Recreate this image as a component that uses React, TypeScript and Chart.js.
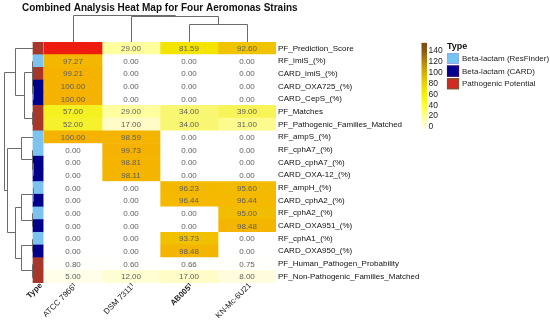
import { useEffect, useRef } from 'react';
import { Chart, registerables } from 'chart.js';

Chart.register(...registerables);

// ---------- data ----------
const strains = ['ATCC 7966ᵀ', 'DSM 7311ᵀ', 'AB005ᵀ', 'KN-Mc-6U21'];
const features = [
  'PF_Prediction_Score',
  'RF_imiS_(%)',
  'CARD_imiS_(%)',
  'CARD_OXA725_(%)',
  'CARD_CepS_(%)',
  'PF_Matches',
  'PF_Pathogenic_Families_Matched',
  'RF_ampS_(%)',
  'RF_cphA7_(%)',
  'CARD_cphA7_(%)',
  'CARD_OXA-12_(%)',
  'RF_ampH_(%)',
  'CARD_cphA2_(%)',
  'RF_cphA2_(%)',
  'CARD_OXA951_(%)',
  'RF_cphA1_(%)',
  'CARD_OXA950_(%)',
  'PF_Human_Pathogen_Probability',
  'PF_Non-Pathogenic_Families_Matched',
];
const featureTypes = ['PF', 'RF', 'PF', 'CARD', 'CARD', 'PF', 'PF', 'RF', 'RF', 'CARD', 'CARD', 'RF', 'CARD', 'RF', 'CARD', 'RF', 'CARD', 'PF', 'PF'];

const atccValues = [130.0, 97.27, 99.21, 100.0, 100.0, 57.0, 52.0, 100.0, 0, 0, 0, 0, 0, 0, 0, 0, 0, 0.8, 5.0];
const dsmValues = [29.0, 0, 0, 0, 0, 29.0, 17.0, 98.59, 99.73, 98.81, 98.11, 0, 0, 0, 0, 0, 0, 0.6, 12.0];
const ab005Values = [81.59, 0, 0, 0, 0, 34.0, 34.0, 0, 0, 0, 0, 96.23, 96.44, 0, 0, 93.73, 98.48, 0.66, 17.0];
const knValues = [92.6, 0, 0, 0, 0, 39.0, 31.0, 0, 0, 0, 0, 95.6, 96.44, 95.0, 98.48, 0, 0, 0.75, 8.0];
const strainValues = [atccValues, dsmValues, ab005Values, knValues];

const colorbarTicks = [0, 20, 40, 60, 80, 100, 120, 140];
const typeCodes = ['RF', 'CARD', 'PF'];
const typeNames = ['Beta-lactam (ResFinder)', 'Beta-lactam (CARD)', 'Pathogenic Potential'];

// dendrogram linkage: [childA, childB, height]; children >= n are earlier merges
const rowLinkage = [
  [3, 4, 0.01],
  [2, 19, 0.02],
  [1, 20, 0.035],
  [5, 6, 0.045],
  [21, 22, 0.31],
  [0, 23, 0.62],
  [9, 10, 0.01],
  [8, 25, 0.02],
  [7, 26, 0.41],
  [11, 12, 0.01],
  [13, 14, 0.02],
  [28, 29, 0.41],
  [15, 16, 0.03],
  [17, 18, 0.045],
  [31, 32, 0.41],
  [30, 33, 0.62],
  [27, 34, 0.9],
  [24, 35, 1.0],
];
const colLinkage = [
  [2, 3, 0.65],
  [1, 4, 0.945],
  [0, 5, 1.0],
];

// ---------- styles ----------
const FONT = '"Liberation Sans", Arial, sans-serif';
const typeColors: Record<string, string> = { RF: '#7cc3ef', CARD: '#00008b', PF: '#a8372b' };
const swatchFill: Record<string, string> = { RF: '#74c6f2', CARD: '#000090', PF: '#d12a24' };
const swatchBorder: Record<string, string> = { RF: '#a99ae0', CARD: '#2c0070', PF: '#7b5230' };

const cellStops: [number, number[]][] = [
  [0, [255, 255, 255]],
  [3, [255, 254, 240]],
  [10, [255, 253, 214]],
  [20, [255, 251, 192]],
  [29, [255, 255, 160]],
  [35, [248, 244, 105]],
  [45, [247, 243, 62]],
  [57, [245, 240, 32]],
  [82, [243, 229, 0]],
  [92, [240, 198, 0]],
  [97, [244, 183, 0]],
  [100, [245, 178, 0]],
  [115, [240, 80, 10]],
  [130, [238, 28, 14]],
  [150, [160, 40, 20]],
];
function cellColor(v: number) {
  for (let i = 1; i < cellStops.length; i++) {
    const [v1, c1] = cellStops[i];
    const [v0, c0] = cellStops[i - 1];
    if (v <= v1) {
      const t = (v - v0) / (v1 - v0);
      const c = c0.map((a, k) => Math.round(a + (c1[k] - a) * t));
      return `rgb(${c[0]},${c[1]},${c[2]})`;
    }
  }
  const c = cellStops[cellStops.length - 1][1];
  return `rgb(${c[0]},${c[1]},${c[2]})`;
}

const cbarStops: [number, string][] = [
  [-5, '#fffff2'],
  [0, '#ffffe6'],
  [20, '#ffff90'],
  [40, '#ffff30'],
  [60, '#f4f000'],
  [80, '#e8d400'],
  [100, '#d6ae00'],
  [120, '#b8860b'],
  [140, '#8b5a14'],
  [155, '#7a4a10'],
];

const TYPE_L = -0.19;
const TYPE_R = -0.015;

const heatPlugin = {
  id: 'heatExtras',
  afterDatasetsDraw(chart: any) {
    const { ctx, scales } = chart;
    const xs = scales.x;
    const ys = scales.y;
    ctx.save();
    ctx.font = `8px ${FONT}`;
    ctx.textAlign = 'center';
    ctx.textBaseline = 'middle';
    strainValues.forEach((vals, c) => {
      vals.forEach((v, r) => {
        ctx.fillStyle = v > 115 ? 'rgb(228,30,16)' : '#5e5e5e';
        ctx.fillText(v.toFixed(2), xs.getPixelForValue(c + 0.5), ys.getPixelForValue(r) + 0.5);
      });
    });
    ctx.restore();
  },
  afterDraw(chart: any) {
    const { ctx, scales, chartArea } = chart;
    const xs = scales.x;
    const ys = scales.y;
    ctx.save();
    ctx.strokeStyle = '#6b6b6b';
    ctx.lineWidth = 1;

    // row dendrogram
    const base = xs.getPixelForValue(TYPE_L);
    const rowLeft = 4;
    const rowPos: { x: number; y: number }[] = features.map((_, r) => ({ x: base, y: ys.getPixelForValue(r) }));
    ctx.beginPath();
    rowLinkage.forEach(([a, b, h]) => {
      const A = rowPos[a];
      const B = rowPos[b];
      const x = Math.round(base - h * (base - rowLeft)) + 0.5;
      ctx.moveTo(A.x, Math.round(A.y) + 0.5);
      ctx.lineTo(x, Math.round(A.y) + 0.5);
      ctx.moveTo(B.x, Math.round(B.y) + 0.5);
      ctx.lineTo(x, Math.round(B.y) + 0.5);
      ctx.moveTo(x, Math.round(A.y) + 0.5);
      ctx.lineTo(x, Math.round(B.y) + 0.5);
      rowPos.push({ x, y: (A.y + B.y) / 2 });
    });
    ctx.stroke();

    // column dendrogram
    const top = chartArea.top;
    const colTop = 14.5;
    const colPos: { x: number; y: number }[] = strains.map((_, c) => ({ x: xs.getPixelForValue(c + 0.5), y: top }));
    ctx.beginPath();
    colLinkage.forEach(([a, b, h]) => {
      const A = colPos[a];
      const B = colPos[b];
      const y = Math.round(top - h * (top - colTop)) + 0.5;
      ctx.moveTo(Math.round(A.x) + 0.5, A.y);
      ctx.lineTo(Math.round(A.x) + 0.5, y);
      ctx.moveTo(Math.round(B.x) + 0.5, B.y);
      ctx.lineTo(Math.round(B.x) + 0.5, y);
      ctx.moveTo(Math.round(A.x) + 0.5, y);
      ctx.lineTo(Math.round(B.x) + 0.5, y);
      colPos.push({ x: (A.x + B.x) / 2, y });
    });
    ctx.stroke();

    // colour bar
    const cbX = 421.5;
    const cbW = 5.5;
    const v2y = (v: number) => 127 - v * 0.543;
    const yTop = v2y(155);
    const yBot = v2y(-5);
    const grad = ctx.createLinearGradient(0, yBot, 0, yTop);
    cbarStops.forEach(([v, col]) => grad.addColorStop((v + 5) / 160, col));
    ctx.fillStyle = grad;
    ctx.fillRect(cbX, yTop, cbW, yBot - yTop);
    ctx.fillStyle = '#222';
    ctx.font = `8.5px ${FONT}`;
    ctx.textAlign = 'left';
    ctx.textBaseline = 'middle';
    colorbarTicks.forEach((t) => ctx.fillText(String(t), 428.5, v2y(t)));

    // type legend
    ctx.font = `bold 9px ${FONT}`;
    ctx.fillStyle = '#111';
    ctx.fillText('Type', 447, 47);
    ctx.font = `8px ${FONT}`;
    typeCodes.forEach((code, i) => {
      const y0 = 53 + i * 12.6;
      ctx.fillStyle = swatchFill[code];
      ctx.fillRect(447, y0, 12, 11);
      ctx.strokeStyle = swatchBorder[code];
      ctx.lineWidth = 1.2;
      if (code === 'RF') ctx.setLineDash([2, 1]);
      ctx.strokeRect(447.5, y0 + 0.5, 11, 10);
      ctx.setLineDash([]);
      ctx.fillStyle = '#222';
      ctx.fillText(typeNames[i], 462, y0 + 5.7);
    });
    ctx.restore();
  },
};

const xTickValues = [(TYPE_L + TYPE_R) / 2, 0.5, 1.5, 2.5, 3.5];
const xTickLabels = ['Type', ...strains];
const boldTicks = [0, 3];

export default function App() {
  const ref = useRef<HTMLCanvasElement | null>(null);
  useEffect(() => {
    document.body.style.margin = '0';
    const canvas = ref.current;
    if (!canvas) return;
    const chart = new Chart(canvas, {
      type: 'bar',
      data: {
        labels: features,
        datasets: [
          {
            label: 'Type',
            data: features.map(() => [TYPE_L, TYPE_R]) as any,
            backgroundColor: featureTypes.map((t) => typeColors[t]),
            grouped: false,
          } as any,
          ...strainValues.map((vals, c) => ({
            label: strains[c],
            data: vals.map(() => [c, c + 1]) as any,
            backgroundColor: vals.map(cellColor),
            grouped: false,
          })),
        ],
      },
      options: {
        responsive: false,
        animation: false,
        indexAxis: 'y',
        layout: { padding: { left: 22, right: 0, top: 0, bottom: 0 } },
        datasets: {
          bar: { barPercentage: 1, categoryPercentage: 1, borderWidth: 0 },
        },
        plugins: {
          legend: { display: false },
          tooltip: { enabled: false },
          title: {
            display: true,
            text: 'Combined Analysis Heat Map for Four Aeromonas Strains',
            align: 'start',
            color: '#111',
            font: { family: FONT, size: 10, weight: 'bold' },
            padding: { top: 2, bottom: 28 },
          },
        },
        scales: {
          x: {
            type: 'linear',
            z: 1,
            min: -(44 - 22) / 58,
            max: 4,
            grid: { display: false, drawTicks: false, tickLength: 0 },
            border: { display: false },
            afterBuildTicks: (s: any) => {
              s.ticks = xTickValues.map((v) => ({ value: v }));
            },
            afterFit: (s: any) => {
              s.height = 39;
            },
            ticks: {
              autoSkip: false,
              minRotation: 45,
              maxRotation: 45,
              padding: -2,
              labelOffset: 3,
              color: '#222',
              callback: (_v: any, i: number) => xTickLabels[i],
              font: (ctx: any) => ({ family: FONT, size: 8, weight: boldTicks.includes(ctx.index) ? 'bold' : 'normal' }),
            },
          },
          y: {
            type: 'category',
            position: 'right',
            grid: { display: false, drawTicks: false, tickLength: 0 },
            border: { display: false },
            afterFit: (s: any) => {
              s.width = 274;
            },
            ticks: {
              autoSkip: false,
              padding: 2,
              color: '#111',
              font: { family: FONT, size: 8 },
            },
          },
        },
      } as any,
      plugins: [heatPlugin],
    });
    return () => chart.destroy();
  }, []);
  return (
    <div style={{ width: 550, height: 322 }}>
      <canvas ref={ref} width={550} height={322} />
    </div>
  );
}
